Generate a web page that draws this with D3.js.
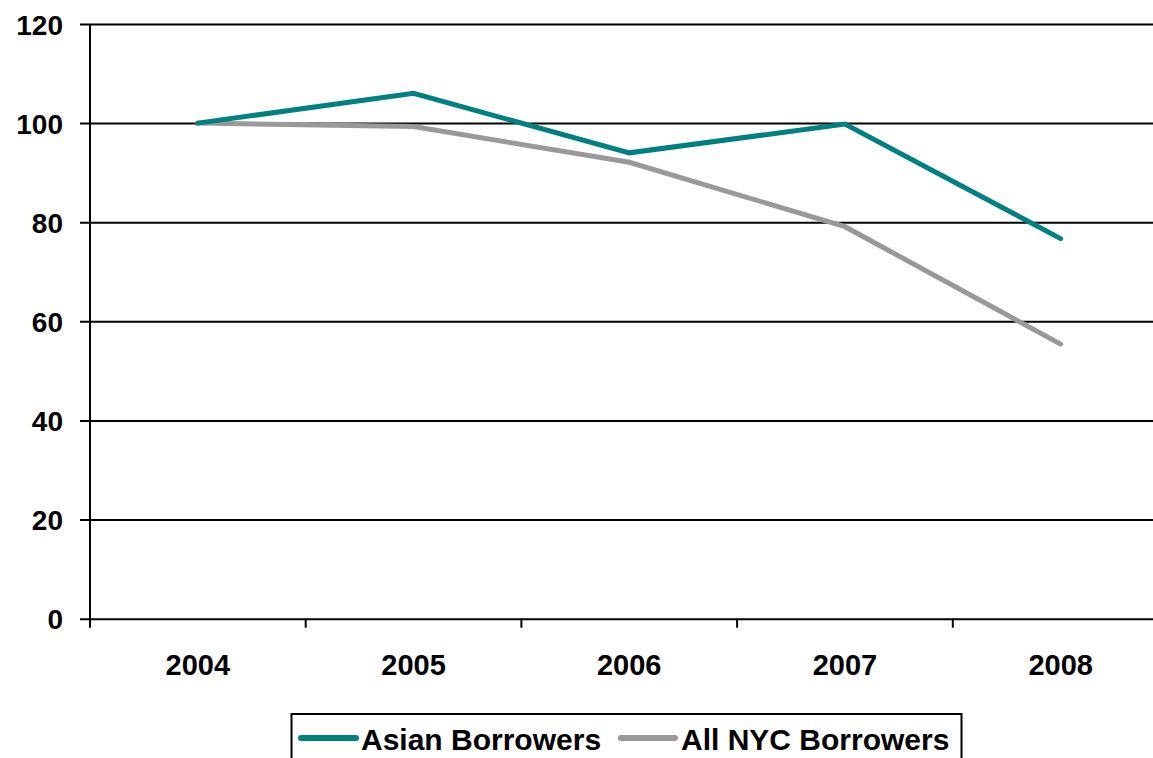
<!DOCTYPE html>
<html>
<head>
<meta charset="utf-8">
<script src="https://cdn.jsdelivr.net/npm/d3@7"></script>
<style>
    body { margin: 0; background: #fff; }
    svg text { font-family: "Liberation Sans", Arial, sans-serif; font-weight: bold; fill: #000; }
</style>
</head>
<body>
<div id="chart"></div>
<script>
var years = ['2004', '2005', '2006', '2007', '2008'];
var asianValues = [100, 106.0, 94.0, 99.8, 76.7];
var nycValues = [100, 99.3, 92.1, 79.1, 55.4];
var yTicks = [0, 20, 40, 60, 80, 100, 120];
var seriesNames = ['Asian Borrowers', 'All NYC Borrowers'];
var seriesColors = ['#008080', '#999999'];

var W = 1153, H = 758;
var plotLeft = 90, plotTop = 24, plotBottom = 618.7;
var band = 215.7;

var svg = d3.select('#chart')
    .append('svg')
    .attr('width', W)
    .attr('height', H);

var x = d3.scaleBand()
    .domain(years)
    .range([plotLeft, plotLeft + band * years.length])
    .padding(0);

var y = d3.scaleLinear()
    .domain([0, 120])
    .range([plotBottom, plotTop]);

// Gridlines + y labels
svg.append('g')
    .attr('transform', 'translate(' + plotLeft + ',0)')
    .call(d3.axisLeft(y)
        .tickValues(yTicks)
        .tickSize(10)
        .tickPadding(17)
        .tickFormat(d3.format('d')))
    .call(function(g) {
        g.select('.domain').remove();
        g.selectAll('.tick line')
            .attr('x2', W - plotLeft)
            .attr('x1', -10)
            .attr('stroke', '#000')
            .attr('stroke-width', 2);
        g.selectAll('.tick text')
            .attr('font-size', 28)
            .attr('dy', '0.36em');
    });

// Y axis line
svg.append('line')
    .attr('x1', plotLeft).attr('x2', plotLeft)
    .attr('y1', y(120)).attr('y2', plotBottom + 9)
    .attr('stroke', '#000')
    .attr('stroke-width', 2);

// X axis ticks at category boundaries
var bounds = years.map(function(d) { return x(d); });
svg.selectAll('.xtick')
    .data(bounds.slice(1))
    .enter()
    .append('line')
    .attr('class', 'xtick')
    .attr('x1', function(d) { return d; })
    .attr('x2', function(d) { return d; })
    .attr('y1', plotBottom)
    .attr('y2', plotBottom + 9)
    .attr('stroke', '#000')
    .attr('stroke-width', 2);

// X labels
svg.selectAll('.xlabel')
    .data(years)
    .enter()
    .append('text')
    .attr('class', 'xlabel')
    .attr('x', function(d) { return x(d) + x.bandwidth() / 2; })
    .attr('y', 675)
    .attr('text-anchor', 'middle')
    .attr('font-size', 29)
    .text(function(d) { return d; });

// Lines
var line = d3.line()
    .x(function(d, i) { return x(years[i]) + x.bandwidth() / 2; })
    .y(function(d) { return y(d); });

[nycValues, asianValues].forEach(function(vals, k) {
    svg.append('path')
        .datum(vals)
        .attr('fill', 'none')
        .attr('stroke', k === 0 ? seriesColors[1] : seriesColors[0])
        .attr('stroke-width', 5)
        .attr('stroke-linecap', 'round')
        .attr('stroke-linejoin', 'miter')
        .attr('d', line);
});

// Legend
var legend = svg.append('g');
legend.append('rect')
    .attr('x', 291.5)
    .attr('y', 714)
    .attr('width', 670)
    .attr('height', 70)
    .attr('fill', '#fff')
    .attr('stroke', '#000')
    .attr('stroke-width', 2);

var legendItems = [
    { name: seriesNames[0], color: seriesColors[0], x0: 301, x1: 356, tx: 361 },
    { name: seriesNames[1], color: seriesColors[1], x0: 621, x1: 675, tx: 681 }
];
legendItems.forEach(function(d) {
    legend.append('line')
        .attr('x1', d.x0).attr('x2', d.x1)
        .attr('y1', 738).attr('y2', 738)
        .attr('stroke', d.color)
        .attr('stroke-width', 6)
        .attr('stroke-linecap', 'round');
    legend.append('text')
        .attr('x', d.tx)
        .attr('y', 750)
        .attr('font-size', 30)
        .text(d.name);
});
</script>
</body>
</html>
